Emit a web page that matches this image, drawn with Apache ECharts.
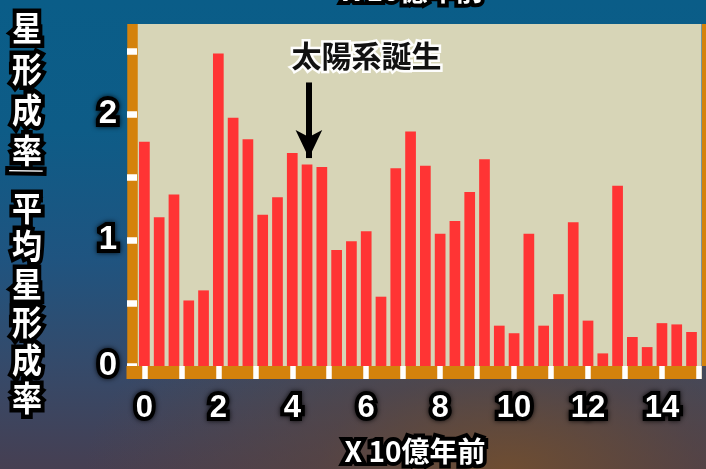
<!DOCTYPE html>
<html>
<head>
<meta charset="utf-8">
<script src="https://cdn.jsdelivr.net/npm/echarts@6/dist/echarts.min.js"></script>
<style>
  html, body { margin: 0; padding: 0; }
  #chart {
    width: 706px; height: 469px;
    background:
      radial-gradient(ellipse 60% 45% at 72% 100%, rgba(112,78,48,0.95) 0%, rgba(96,70,58,0.55) 45%, rgba(0,0,0,0) 100%),
      linear-gradient(180deg, #0a5d88 0%, #0e5c87 28%, #1f5480 55%, #354a6a 78%, #463f52 100%);
  }
</style>
</head>
<body>
<div id="chart"></div>
<script>
// Star formation rate relative to the average, in bins of 0.4 billion years
const ages = [0, 0.4, 0.8, 1.2, 1.6, 2, 2.4, 2.8, 3.2, 3.6, 4, 4.4, 4.8, 5.2, 5.6, 6, 6.4, 6.8, 7.2,
  7.6, 8, 8.4, 8.8, 9.2, 9.6, 10, 10.4, 10.8, 11.2, 11.6, 12, 12.4, 12.8, 13.2, 13.6, 14, 14.4, 14.8];
const rates = [1.78, 1.18, 1.36, 0.52, 0.60, 2.48, 1.97, 1.80, 1.20, 1.34, 1.69, 1.60, 1.58, 0.92,
  0.99, 1.07, 0.55, 1.57, 1.86, 1.59, 1.05, 1.15, 1.38, 1.64, 0.32, 0.26, 1.05, 0.32, 0.57, 1.14,
  0.36, 0.10, 1.43, 0.23, 0.15, 0.34, 0.33, 0.27];

// Axis ticks and labels
const xTicks = [0, 1, 2, 3, 4, 5, 6, 7, 8, 9, 10, 11, 12, 13, 14, 15];
const xLabels = [0, 2, 4, 6, 8, 10, 12, 14];
const yTicks = [0, 0.5, 1, 1.5, 2, 2.5];
const yLabels = [0, 1, 2];

// Birth of the solar system
const solarAge = 4.45;
const solarLabel = '太陽系誕生';
const xTitle = 'X 10億年前';

const X_MIN = -0.2, X_MAX = 15.07, Y_MIN = 0, Y_MAX = 2.714;
const ORANGE = '#d4820c';
const CJK = '"Noto Sans CJK JP", "Noto Sans CJK SC", sans-serif';
const NUM = '"Liberation Sans", Arial, sans-serif';

const outlined = {
  color: '#fff', fontWeight: 'bold', textBorderColor: '#000', textBorderWidth: 8,
  textShadowColor: 'rgba(0,0,0,0.8)', textShadowBlur: 5
};

// white text with a heavy black outline, used for titles
function haloText(text, x, y, size, extra) {
  return Object.assign({
    type: 'text', x: x, y: y, z: 10,
    style: {
      text: text, font: 'bold ' + size + 'px ' + CJK,
      fill: '#fff', stroke: '#000', lineWidth: 8,
      textFill: '#fff', textStroke: '#000', textStrokeWidth: 8,
      shadowColor: 'rgba(0,0,0,0.7)', shadowBlur: 5,
      align: 'center', verticalAlign: 'middle'
    }
  }, extra || {});
}

const chart = echarts.init(document.getElementById('chart'), null, { renderer: 'canvas' });

// vertical y-axis title, glyphs drawn slightly tall
const yTitleTop = haloText('星\n形\n成\n率', 27, 8, 30, { scaleY: 1.12 });
yTitleTop.style.verticalAlign = 'top';
yTitleTop.style.lineHeight = 36.6;
const yTitleBottom = haloText('平\n均\n星\n形\n成\n率', 27, 189, 30, { scaleY: 1.12 });
yTitleBottom.style.verticalAlign = 'top';
yTitleBottom.style.lineHeight = 33.9;

const orangeLine = (w) => ({ show: true, onZero: false, lineStyle: { color: ORANGE, width: w, cap: 'butt' } });

chart.setOption({
  animation: false,
  backgroundColor: 'transparent',
  grid: {
    left: 137, right: 4.5, top: 24, bottom: 103,
    show: true, backgroundColor: '#d7d5b7', borderWidth: 0
  },
  xAxis: [
    { // orange base bar
      type: 'value', min: X_MIN, max: X_MAX, position: 'bottom', offset: 6.5,
      axisLine: orangeLine(13),
      axisTick: { show: false }, axisLabel: { show: false }, splitLine: { show: false }
    },
    { // white ticks and labels
      type: 'value', min: X_MIN, max: X_MAX, position: 'bottom', offset: 0,
      axisLine: { show: false, onZero: false },
      axisTick: { show: true, customValues: xTicks, length: 13, lineStyle: { color: '#fff', width: 5.5 } },
      axisLabel: Object.assign({ show: true, customValues: xLabels, fontSize: 31, fontFamily: NUM, margin: 27 }, outlined),
      splitLine: { show: false }
    }
  ],
  yAxis: [
    { // orange left bar
      type: 'value', min: Y_MIN, max: Y_MAX, position: 'left', offset: 5.25,
      axisLine: orangeLine(10.5),
      axisTick: { show: false }, axisLabel: { show: false }, splitLine: { show: false }
    },
    { // white ticks and labels
      type: 'value', min: Y_MIN, max: Y_MAX, position: 'left', offset: 0,
      axisLine: { show: false, onZero: false },
      axisTick: { show: true, customValues: yTicks, length: 10, lineStyle: { color: '#fff', width: 6.5 } },
      axisLabel: Object.assign({ show: true, customValues: yLabels, fontSize: 33, fontFamily: NUM, margin: 20 }, outlined),
      splitLine: { show: false }
    },
    { // orange right edge
      type: 'value', min: Y_MIN, max: Y_MAX, position: 'right', offset: 5,
      axisLine: orangeLine(10),
      axisTick: { show: false }, axisLabel: { show: false }, splitLine: { show: false }
    }
  ],
  series: [{
    type: 'bar',
    xAxisIndex: 0, yAxisIndex: 0,
    barWidth: 10.7,
    itemStyle: { color: '#ff3434' },
    data: ages.map((a, i) => [a, rates[i]]),
    markLine: {
      silent: true,
      symbol: ['none', 'arrow'],
      symbolSize: [20, 28],
      label: { show: false },
      lineStyle: { color: '#000', width: 6, type: 'solid' },
      data: [[{ coord: [solarAge, 2.25] }, { coord: [solarAge, 1.65] }]]
    },
    markPoint: {
      silent: true,
      symbol: 'circle', symbolSize: 0,
      data: [{
        coord: [3.98, 2.46],
        label: {
          show: true, formatter: solarLabel, position: [0, 0], align: 'left', verticalAlign: 'middle',
          fontFamily: CJK, fontSize: 30, fontWeight: 'bold', color: '#111',
          textBorderColor: 'rgba(255,255,255,0.95)', textBorderWidth: 5
        }
      }]
    }
  }],
  graphic: [
    { // corner where the two orange bars meet
      type: 'rect', shape: { x: 126.5, y: 366, width: 10.5, height: 13 },
      style: { fill: ORANGE }, z: 1
    },
    haloText(xTitle, 415, 451, 28),
    haloText(xTitle, 413, -10, 28),
    yTitleTop,
    haloText('／', 26, 171, 26, { rotation: -0.8 }),
    yTitleBottom
  ]
});
</script>
</body>
</html>
